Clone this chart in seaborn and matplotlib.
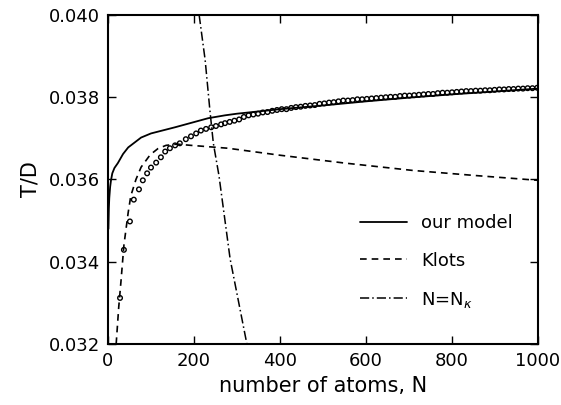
import matplotlib
matplotlib.use("Agg")
import matplotlib.pyplot as plt
import seaborn as sns

# "our model" curve
N_model = [1, 2, 3, 5, 7, 10, 15, 23, 35, 47, 77, 100, 156, 233, 272, 300,
           400, 500, 600, 700, 800, 900, 1000]
T_model = [0.0348, 0.0353, 0.03555, 0.03582, 0.03598, 0.03615, 0.03628, 0.03640,
           0.03662, 0.03678, 0.03702, 0.03712, 0.03727, 0.03749, 0.03756, 0.03760,
           0.03771, 0.03780, 0.03790, 0.03799, 0.03807, 0.03814, 0.03821]

# Klots curve
N_klots = [19, 21, 25, 30, 37, 47, 53, 65, 77, 98, 116, 135, 160, 193, 279,
           400, 550, 709, 850, 1000]
T_klots = [0.0320, 0.0323, 0.0329, 0.03350, 0.03440, 0.03520, 0.0356, 0.0360,
           0.03630, 0.03660, 0.03675, 0.03683, 0.03686, 0.03683, 0.03676,
           0.03659, 0.0364, 0.03622, 0.0361, 0.03598]

# N = N_kappa line
N_kappa = [212, 226, 237, 245, 258, 284, 323]
T_kappa = [0.0400, 0.0389, 0.03768, 0.03688, 0.0361, 0.03407, 0.0320]

# simulation points
N_obs = [28, 37, 51, 60, 72, 81, 91, 100, 112, 123, 133, 144, 156, 167, 181, 193,
         205, 216, 228, 240, 251, 263, 272, 283, 294, 305, 316, 327, 338, 349, 360,
         371, 382, 393, 404, 415, 426, 437, 448, 459, 470, 481, 492, 503, 514, 525,
         536, 547, 558, 569, 580, 591, 602, 613, 624, 635, 646, 657, 668, 679, 690,
         701, 712, 723, 734, 745, 756, 767, 778, 789, 800, 811, 822, 833, 844, 855,
         866, 877, 888, 899, 910, 921, 932, 943, 954, 965, 976, 987, 998]
T_obs = [0.03312, 0.03429, 0.03498, 0.03551, 0.03576, 0.03598, 0.03615, 0.03629,
         0.03641, 0.03654, 0.03668, 0.03676, 0.03683, 0.03688, 0.03698, 0.03705,
         0.03712, 0.03719, 0.03723, 0.03727, 0.03730, 0.03734, 0.03737, 0.03740,
         0.03743, 0.03746, 0.03752, 0.03756, 0.03758, 0.03760, 0.03763, 0.03764,
         0.03767, 0.03769, 0.03771, 0.03771, 0.03774, 0.03776, 0.03777, 0.03779,
         0.03780, 0.03781, 0.03784, 0.03785, 0.03787, 0.03788, 0.03790, 0.03792,
         0.03792, 0.03793, 0.03795, 0.03795, 0.03796, 0.03797, 0.03798, 0.03799,
         0.03800, 0.03801, 0.03801, 0.03803, 0.03804, 0.03804, 0.03805, 0.03806,
         0.03807, 0.03808, 0.03808, 0.03810, 0.03811, 0.03811, 0.03812, 0.03813,
         0.03814, 0.03815, 0.03815, 0.03816, 0.03816, 0.03817, 0.03817, 0.03818,
         0.03819, 0.03819, 0.03820, 0.03820, 0.03821, 0.03821, 0.03822, 0.03822,
         0.03823]

x_ticks = [0, 200, 400, 600, 800, 1000]
y_ticks = [0.032, 0.034, 0.036, 0.038, 0.040]

sns.set_style("ticks")
plt.rcParams['font.family'] = ['DejaVu Sans']
plt.rcParams['text.color'] = 'black'
plt.rcParams['axes.labelcolor'] = 'black'
plt.rcParams['xtick.color'] = 'black'
plt.rcParams['ytick.color'] = 'black'

fig = plt.figure(figsize=(5.61, 4.05), dpi=100)
ax = fig.add_axes([0.1925, 0.1506, 0.7665, 0.8124])

sns.lineplot(x=N_model, y=T_model, color='black', lw=1.3, label='our model', ax=ax)
sns.lineplot(x=N_klots, y=T_klots, color='black', lw=1.2, label='Klots', ax=ax)
ax.lines[-1].set_dashes((4, 3))
sns.lineplot(x=N_kappa, y=T_kappa, color='black', lw=1.1, label=r'N=N$_{\kappa}$', ax=ax)
ax.lines[-1].set_dashes((6, 2, 1, 2))
sns.scatterplot(x=N_obs, y=T_obs, marker='o', s=11, facecolor='none',
                edgecolor='black', linewidth=1.0, ax=ax)

ax.set_xlim(0, 1000)
ax.set_ylim(0.032, 0.040)
ax.set_xticks(x_ticks)
ax.set_yticks(y_ticks)
ax.set_yticklabels([f'{v:.3f}' for v in y_ticks])
ax.tick_params(direction='in', length=6, width=1, labelsize=13, top=True, right=True,
               pad=6, colors='black')
for s in ax.spines.values():
    s.set_linewidth(1.5)
    s.set_color('black')

ax.set_xlabel('number of atoms, N', fontsize=15, labelpad=4)
ax.set_ylabel('T/D', fontsize=15, labelpad=6)

handles = ax.lines[:3]
ax.legend(handles=handles, labels=['our model', 'Klots', r'N=N$_{\kappa}$'],
          loc='lower right', bbox_to_anchor=(0.98, 0.055), frameon=False,
          fontsize=13, handlelength=2.6, labelspacing=1.1)

fig.savefig('out.png', dpi=100)
